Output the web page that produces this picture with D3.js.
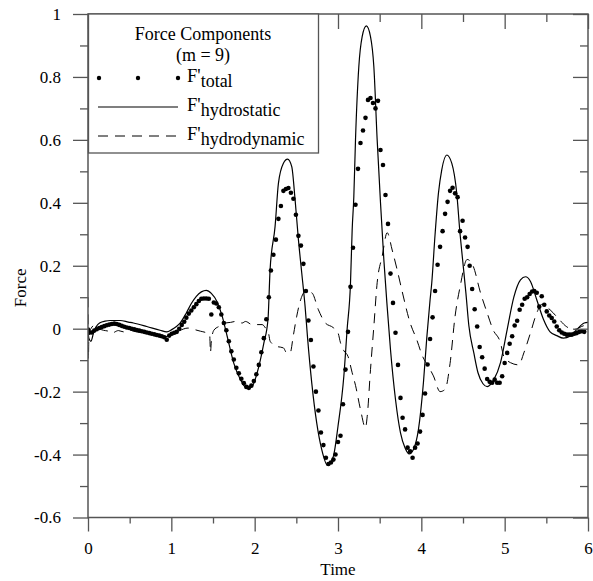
<!DOCTYPE html>
<html>
<head>
<meta charset="utf-8">
<script src="https://cdn.jsdelivr.net/npm/d3@7"></script>
<style>
  html, body { margin: 0; padding: 0; background: #fff; }
  svg { display: block; }
  text { font-family: "Liberation Serif", "Times New Roman", "DejaVu Serif", serif; fill: #000; }
</style>
</head>
<body>
<svg id="chart" width="593" height="581"></svg>
<script>
// ---------- data ----------
const xMajorTicks = [0, 1, 2, 3, 4, 5, 6];
const xTickLabels = ["0", "1", "2", "3", "4", "5", "6"];
const xMinorTicks = [0.5, 1.5, 2.5, 3.5, 4.5, 5.5];
const yMajorTicks = [-0.6, -0.4, -0.2, 0, 0.2, 0.4, 0.6, 0.8, 1];
const yTickLabels = ["-0.6", "-0.4", "-0.2", "0", "0.2", "0.4", "0.6", "0.8", "1"];
const yMinorTicks = [-0.5, -0.3, -0.1, 0.1, 0.3, 0.5, 0.7, 0.9];

const legendTitle = ["Force Components", "(m = 9)"];
const seriesNames = ["total", "hydrostatic", "hydrodynamic"];

// F'total (dots)
const totalTime = [
  0.000,0.015,0.045,0.075,0.105,0.135,0.165,0.195,0.225,0.255,0.285,0.315,0.345,0.375,0.405,0.435,0.465,0.495,0.525,0.555,
  0.585,0.615,0.645,0.675,0.705,0.735,0.765,0.795,0.825,0.855,0.885,0.915,0.945,0.975,1.005,1.035,1.065,1.095,1.125,1.155,
  1.18,1.21,1.24,1.27,1.30,1.33,1.36,1.39,1.42,1.45,1.48,1.51,1.54,1.57,1.60,1.63,1.66,1.69,1.72,1.75,
  1.78,1.81,1.84,1.87,1.90,1.93,1.96,1.99,2.02,2.05,2.08,2.11,2.14,2.17,
  2.195,2.225,2.255,2.285,2.315,2.345,2.375,2.405,2.435,2.465,2.495,2.525,2.555,2.585,2.615,2.645,2.675,2.705,2.735,2.765,
  2.795,2.825,2.855,2.885,2.915,2.945,
  2.97,3.00,3.03,3.06,3.09,3.12,3.15,3.18,3.21,3.24,3.27,3.30,3.33,3.36,3.39,3.42,3.45,3.48,3.51,3.54,
  3.57,3.60,3.63,3.66,3.69,3.72,3.75,
  3.775,3.805,3.835,3.865,3.895,3.925,3.955,3.985,4.015,4.045,4.075,4.105,4.135,4.165,4.195,4.225,4.255,4.285,4.315,4.345,
  4.375,4.405,4.435,4.465,4.495,4.525,4.555,
  4.58,4.61,4.64,4.67,4.70,4.73,4.76,4.79,4.82,4.85,4.88,4.91,4.94,4.97,5.00,5.03,5.06,5.09,5.12,5.15,
  5.18,5.21,5.24,5.27,5.30,5.33,
  5.355,5.385,5.415,5.445,5.475,5.505,5.535,5.565,5.595,5.625,5.655,5.685,5.715,5.745,5.775,5.805,5.835,5.865,5.895,5.925,5.955
];
const totalForce = [
  -0.003,-0.012,-0.012,-0.006,-0.002,0.002,0.005,0.008,0.011,0.013,
  0.015,0.016,0.015,0.012,0.009,0.006,0.004,0.002,0.000,-0.002,
  -0.004,-0.006,-0.008,-0.010,-0.012,-0.014,-0.016,-0.018,-0.020,-0.022,
  -0.024,-0.027,-0.035,-0.022,-0.016,-0.013,-0.010,0.000,0.012,0.022,
  0.035,0.048,0.058,0.068,0.078,0.088,0.095,0.096,0.096,0.095,
  0.045,0.083,0.080,0.068,0.045,0.018,-0.005,-0.040,-0.072,-0.098,
  -0.124,-0.142,-0.159,-0.173,-0.185,-0.188,-0.181,-0.166,-0.145,-0.115,
  -0.075,-0.030,0.030,0.100,0.185,0.235,0.283,0.349,0.390,0.438,
  0.444,0.447,0.432,0.413,0.362,0.295,0.264,0.206,0.120,0.026,
  -0.036,-0.120,-0.200,-0.260,-0.330,-0.370,-0.410,-0.430,-0.425,-0.416,
  -0.400,-0.360,-0.340,-0.240,-0.130,-0.010,0.133,0.257,0.394,0.508,
  0.590,0.630,0.670,0.727,0.733,0.717,0.700,0.724,0.568,0.520,
  0.425,0.333,0.175,0.082,-0.013,-0.115,-0.220,-0.283,-0.320,-0.378,
  -0.390,-0.410,-0.378,-0.365,-0.327,-0.274,-0.206,-0.114,-0.033,0.036,
  0.120,0.203,0.260,0.310,0.365,0.403,0.438,0.448,0.430,0.418,
  0.310,0.343,0.290,0.260,0.200,0.126,0.062,0.007,-0.058,-0.091,
  -0.127,-0.160,-0.169,-0.172,-0.162,-0.172,-0.172,-0.151,-0.109,-0.077,
  -0.048,-0.024,0.010,0.025,0.060,0.076,0.095,0.100,0.110,0.118,
  0.120,0.114,0.070,0.103,0.076,0.055,0.042,0.034,0.023,0.007,
  -0.005,-0.012,-0.016,-0.019,-0.019,-0.019,-0.016,-0.014,-0.010,-0.008,
  -0.010
];

// F'hydrostatic (solid)
const staticTime = [
  0.000,0.010,0.035,0.065,0.095,0.145,0.205,0.265,0.385,0.485,0.545,0.705,0.865,0.945,1.005,1.065,1.105,
  1.18,1.24,1.30,1.36,1.42,1.48,1.55,1.61,1.67,1.75,1.83,1.91,1.97,2.03,2.11,2.16,
  2.185,2.245,2.285,2.345,2.395,2.445,2.485,2.525,2.565,2.605,2.635,2.685,2.745,2.805,2.875,2.945,
  3.00,3.07,3.11,3.15,3.17,3.19,3.21,3.25,3.29,3.34,3.39,3.43,3.47,3.51,3.55,3.59,3.63,3.69,3.75,
  3.805,3.855,3.905,3.965,4.025,4.065,4.105,4.125,4.165,4.205,4.245,4.305,4.365,4.425,4.465,4.495,4.535,
  4.57,4.63,4.68,4.74,4.79,4.87,4.95,5.03,5.11,5.19,5.25,5.31,
  5.385,5.465,5.545,5.625,5.705,5.785,5.865,5.955,6.0
];
const staticForce = [
  0.000,-0.030,-0.040,-0.015,0.005,0.019,0.024,0.026,0.026,0.021,0.018,0.007,-0.005,-0.010,-0.003,0.008,0.018,
  0.050,0.080,0.103,0.117,0.122,0.112,0.085,0.040,-0.024,-0.110,-0.162,-0.190,-0.183,-0.140,-0.046,0.030,
  0.187,0.325,0.462,0.526,0.539,0.515,0.410,0.283,0.177,0.071,-0.030,-0.172,-0.300,-0.384,-0.434,-0.405,
  -0.310,-0.151,0.000,0.145,0.314,0.420,0.600,0.833,0.928,0.962,0.928,0.833,0.600,0.400,0.220,0.070,-0.067,-0.225,-0.331,
  -0.379,-0.398,-0.384,-0.321,-0.172,-0.030,0.092,0.145,0.300,0.430,0.505,0.552,0.526,0.430,0.300,0.220,0.113,
  0.010,-0.077,-0.140,-0.175,-0.184,-0.162,-0.108,-0.003,0.100,0.155,0.165,0.150,
  0.092,0.030,-0.010,-0.022,-0.030,-0.024,-0.003,0.018,0.020
];

// F'hydrodynamic (dashed)
const dynamicTime = [
  0.000,0.005,0.010,0.035,0.085,0.135,0.185,0.245,0.285,0.365,0.425,0.485,0.545,0.635,0.735,0.835,0.935,0.985,1.085,
  1.20,1.28,1.35,1.42,1.46,1.47,1.48,1.51,1.57,1.65,1.71,1.77,1.85,1.89,1.97,2.09,2.13,2.17,
  2.185,2.265,2.345,2.385,2.425,2.465,2.505,2.545,2.605,2.685,2.765,2.845,2.945,
  3.00,3.03,3.07,3.12,3.17,3.21,3.27,3.33,3.35,3.39,3.43,3.47,3.53,3.59,3.65,3.71,
  3.765,3.865,3.945,4.015,4.085,4.145,4.225,4.285,4.345,4.405,4.465,
  4.55,4.62,4.71,4.79,4.86,4.95,4.99,5.07,5.17,5.23,5.31,
  5.385,5.445,5.545,5.625,5.745,5.825,5.955,6.0
];
const dynamicForce = [
  0.100,-0.095,-0.030,0.000,0.012,0.000,-0.005,-0.008,-0.014,-0.006,-0.010,-0.003,-0.008,-0.012,-0.015,-0.020,-0.025,-0.022,-0.008,
  0.002,-0.003,-0.008,-0.013,-0.019,-0.075,-0.040,-0.005,0.007,0.018,0.020,0.023,0.018,0.023,0.013,0.013,0.002,-0.019,
  -0.040,-0.056,-0.061,-0.077,-0.077,-0.020,0.040,0.086,0.117,0.114,0.060,0.019,0.003,
  -0.013,-0.045,-0.070,-0.088,-0.140,-0.180,-0.257,-0.315,-0.280,-0.130,0.007,0.146,0.230,0.305,0.250,0.187,
  0.124,0.019,-0.035,-0.088,-0.120,-0.150,-0.200,-0.193,-0.110,0.040,0.133,
  0.220,0.200,0.114,0.050,-0.003,-0.045,-0.088,-0.108,-0.115,-0.077,-0.013,
  0.050,0.077,0.060,0.038,0.006,-0.003,0.010,0.012
];

// ---------- chart ----------
const svg = d3.select("#chart");
const pL = 88, pR = 588, pT = 14, pB = 517.5;
const axisColor = "#555";
const serif = "'Liberation Serif', 'Times New Roman', 'DejaVu Serif', serif";

const x = d3.scaleLinear().domain([0, 6]).range([pL, pR]);
const y = d3.scaleLinear().domain([-0.6, 1]).range([pB, pT]);

svg.append("defs").append("clipPath").attr("id", "plotclip")
  .append("rect").attr("x", pL).attr("y", pT).attr("width", pR - pL).attr("height", pB - pT);

const plot = svg.append("g").attr("clip-path", "url(#plotclip)");

const lineGen = d3.line().x(d => x(d[0])).y(d => y(d[1])).curve(d3.curveMonotoneX);

const staticData = staticTime.map((t, i) => [t, staticForce[i]]);
const dynamicData = dynamicTime.map((t, i) => [t, dynamicForce[i]]);
const totalData = totalTime.map((t, i) => [t, totalForce[i]]);

plot.append("path").datum(dynamicData)
  .attr("d", lineGen).attr("fill", "none").attr("stroke", "#000")
  .attr("stroke-width", 1).attr("stroke-dasharray", "10,7");

plot.append("path").datum(staticData)
  .attr("d", lineGen).attr("fill", "none").attr("stroke", "#000")
  .attr("stroke-width", 1.2);

plot.append("g").selectAll("circle").data(totalData).join("circle")
  .attr("cx", d => x(d[0])).attr("cy", d => y(d[1])).attr("r", 2.3).attr("fill", "#000");

// axes
function styleAxis(g) {
  g.select(".domain").remove();
  g.selectAll("line").attr("stroke", axisColor).attr("stroke-width", 1.3);
  g.selectAll("text").style("font-family", serif).attr("font-size", 17).attr("fill", "#000");
}

svg.append("g").attr("transform", `translate(0,${pB})`)
  .call(d3.axisBottom(x).tickValues(xMajorTicks).tickSize(14).tickPadding(10)
    .tickFormat((d, i) => xTickLabels[i]))
  .call(styleAxis);
svg.append("g").attr("transform", `translate(0,${pB})`)
  .call(d3.axisBottom(x).tickValues(xMinorTicks).tickSize(6).tickFormat(""))
  .call(styleAxis);

svg.append("g").attr("transform", `translate(${pL},0)`)
  .call(d3.axisLeft(y).tickValues(yMajorTicks).tickSize(15).tickPadding(12)
    .tickFormat((d, i) => yTickLabels[i]))
  .call(styleAxis);
svg.append("g").attr("transform", `translate(${pL},0)`)
  .call(d3.axisLeft(y).tickValues(yMinorTicks).tickSize(8).tickFormat(""))
  .call(styleAxis);

svg.append("g").attr("transform", `translate(0,${pT})`)
  .call(d3.axisTop(x).tickValues(xMajorTicks).tickSize(-15).tickFormat(""))
  .call(styleAxis);
svg.append("g").attr("transform", `translate(0,${pT})`)
  .call(d3.axisTop(x).tickValues(xMinorTicks).tickSize(-8).tickFormat(""))
  .call(styleAxis);

svg.append("g").attr("transform", `translate(${pR},0)`)
  .call(d3.axisRight(y).tickValues(yMajorTicks).tickSize(-15).tickFormat(""))
  .call(styleAxis);
svg.append("g").attr("transform", `translate(${pR},0)`)
  .call(d3.axisRight(y).tickValues(yMinorTicks).tickSize(-8).tickFormat(""))
  .call(styleAxis);

// frame
svg.append("rect").attr("x", pL).attr("y", pT).attr("width", pR - pL).attr("height", pB - pT)
  .attr("fill", "none").attr("stroke", axisColor).attr("stroke-width", 1.5);

// axis titles
svg.append("text").attr("x", (pL + pR) / 2).attr("y", 575)
  .attr("text-anchor", "middle").attr("font-size", 17).style("font-family", serif).text("Time");
svg.append("text").attr("transform", `translate(26,${y(0.13)}) rotate(-90)`)
  .attr("text-anchor", "middle").attr("font-size", 17).style("font-family", serif).text("Force");

// legend
const lg = svg.append("g");
lg.append("rect").attr("x", 88.5).attr("y", 14).attr("width", 230).attr("height", 139)
  .attr("fill", "#fff").attr("stroke", axisColor).attr("stroke-width", 1.3);
lg.append("text").attr("x", 203).attr("y", 40).attr("text-anchor", "middle")
  .attr("font-size", 18).style("font-family", serif).text(legendTitle[0]);
lg.append("text").attr("x", 203).attr("y", 61).attr("text-anchor", "middle")
  .attr("font-size", 18).style("font-family", serif).text(legendTitle[1]);

const rowY = [78, 107, 136];
[99, 138, 178].forEach(cx => {
  lg.append("circle").attr("cx", cx).attr("cy", rowY[0]).attr("r", 2.2).attr("fill", "#000");
});
lg.append("line").attr("x1", 98).attr("x2", 178).attr("y1", rowY[1]).attr("y2", rowY[1])
  .attr("stroke", "#000").attr("stroke-width", 1.2);
lg.append("line").attr("x1", 98).attr("x2", 178).attr("y1", rowY[2]).attr("y2", rowY[2])
  .attr("stroke", "#000").attr("stroke-width", 1).attr("stroke-dasharray", "10,7");

seriesNames.forEach((name, i) => {
  const t = lg.append("text").attr("x", 187).attr("y", rowY[i] + 4)
    .attr("font-size", 18.5).style("font-family", serif);
  t.append("tspan").text("F'");
  t.append("tspan").attr("dy", 5).attr("font-size", 18).text(name);
});
</script>
</body>
</html>
